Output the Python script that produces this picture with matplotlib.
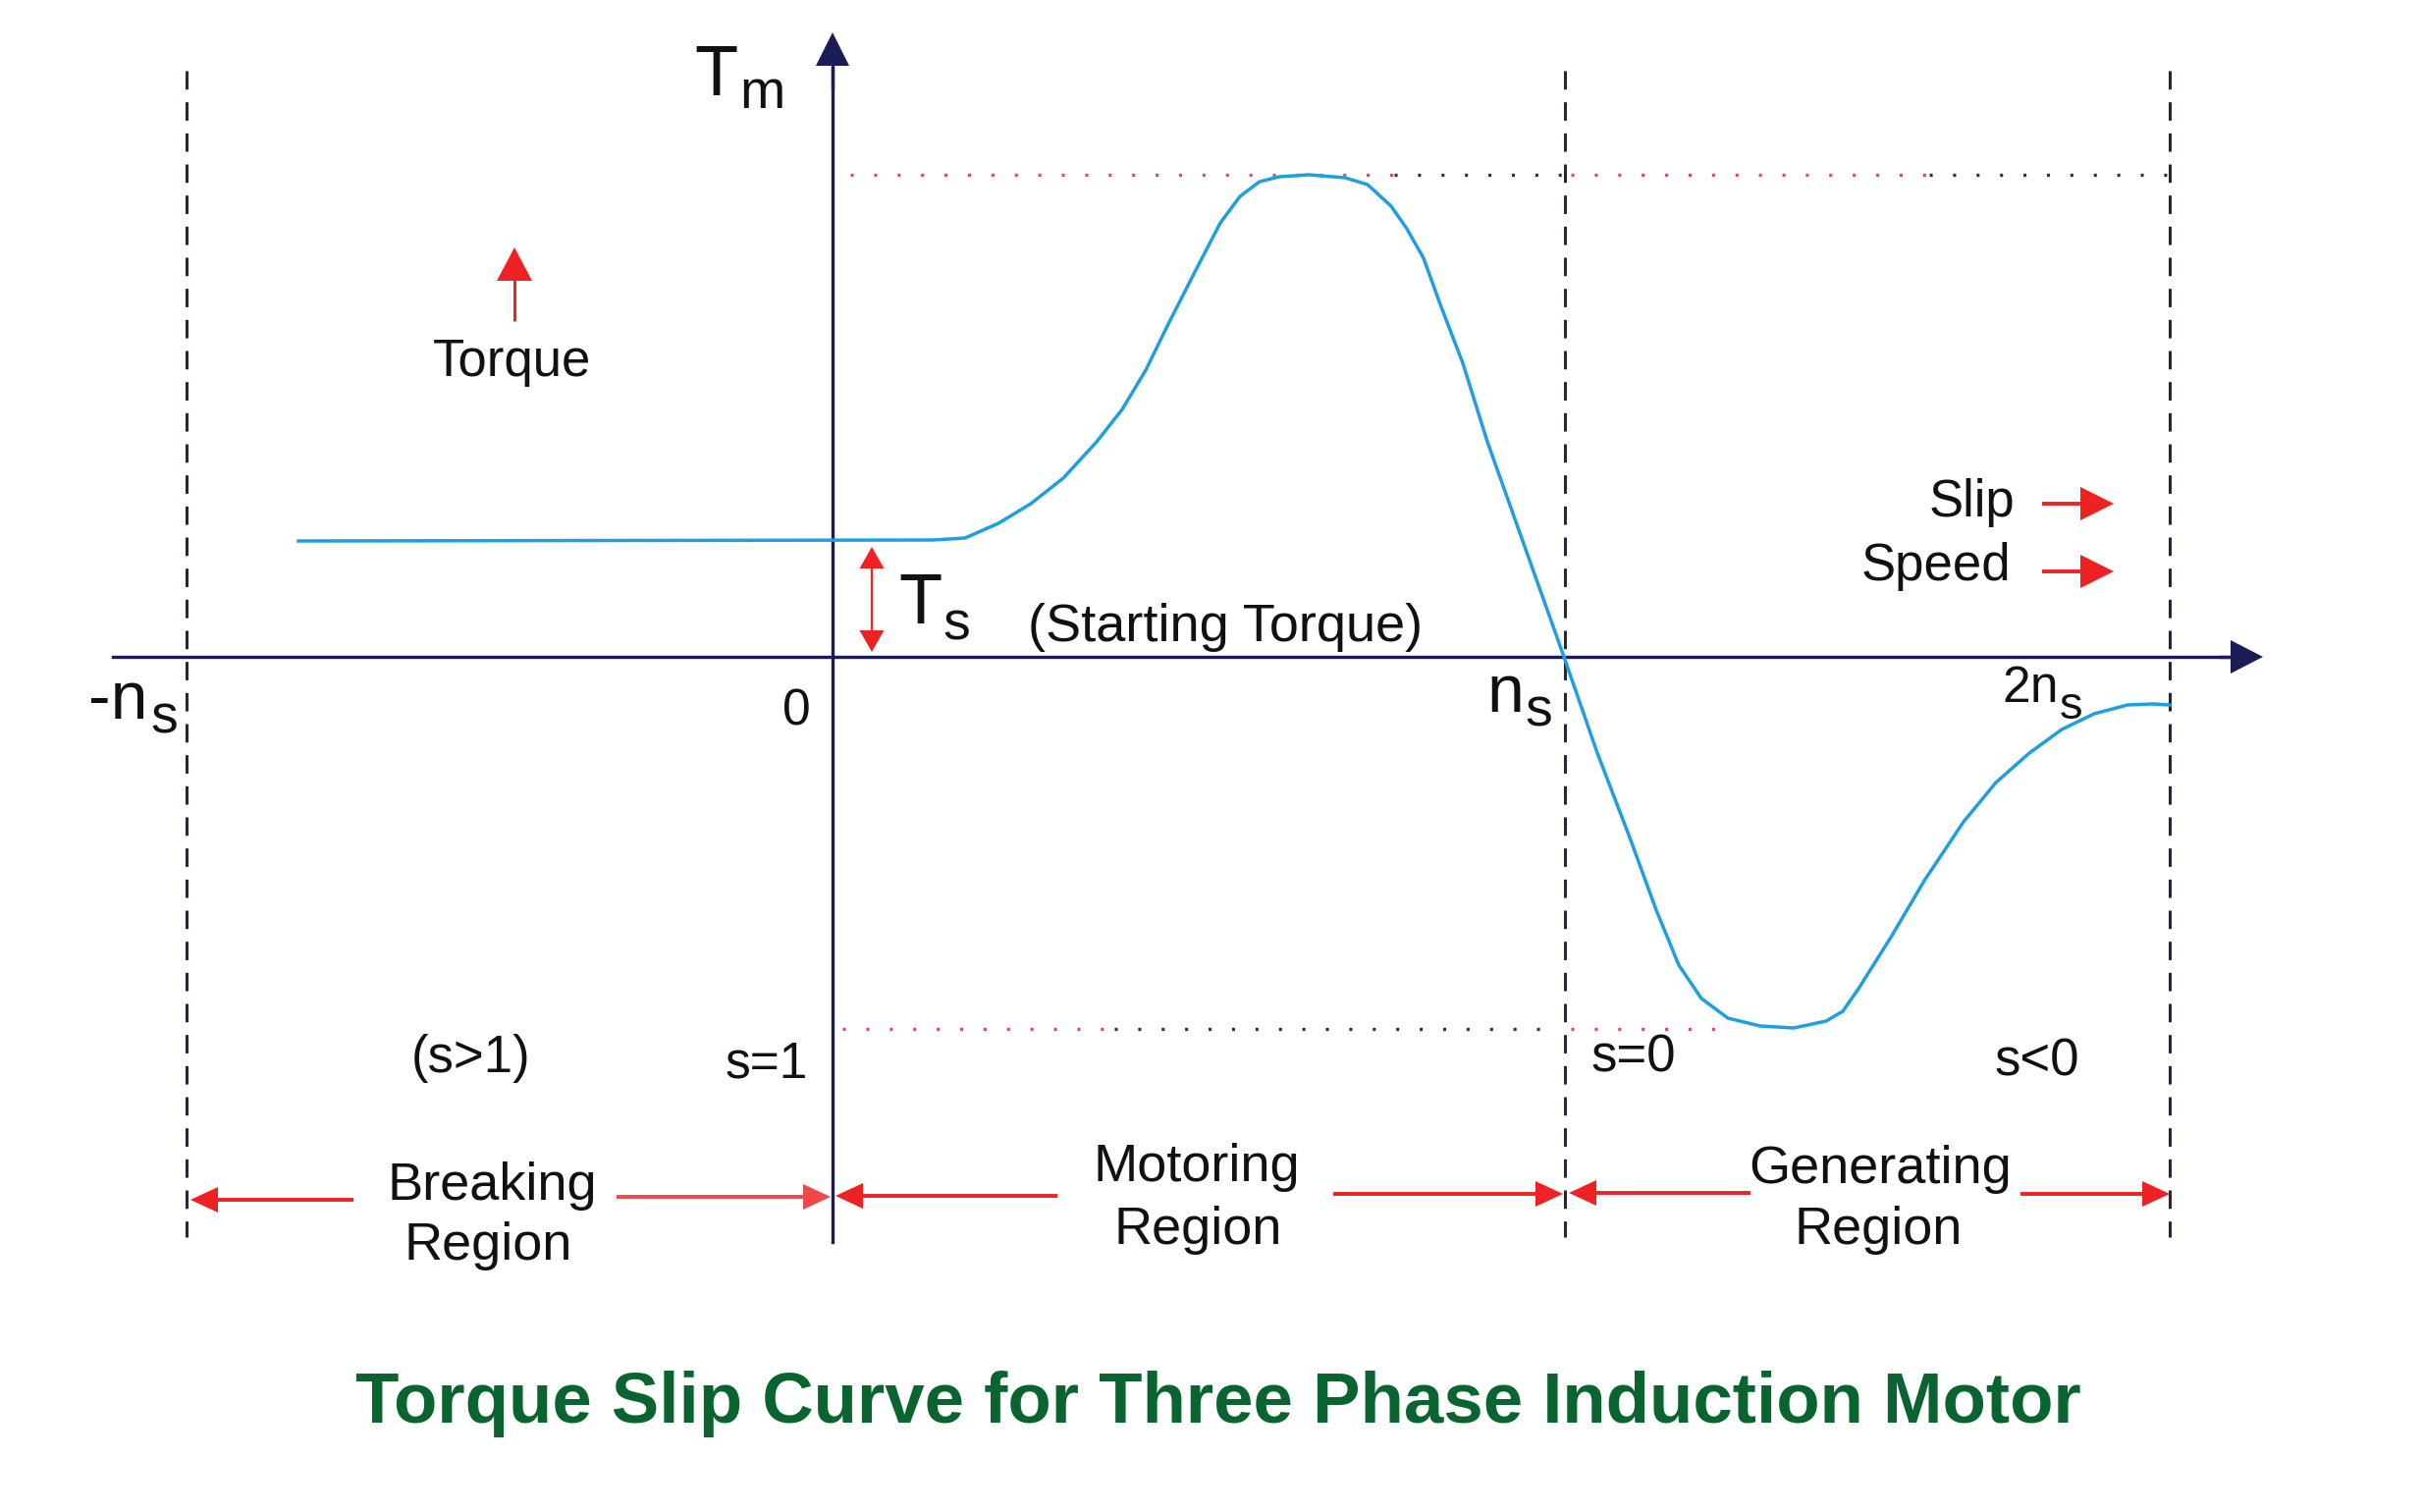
import matplotlib
matplotlib.use("Agg")
import matplotlib.pyplot as plt
import numpy as np

plt.rcParams['font.family'] = ['Liberation Sans', 'DejaVu Sans']
plt.rcParams['lines.scale_dashes'] = False

# ---------------- data (speed / torque in diagram units, origin at (0, 0)) -------------
speed = [-544, 102, 135, 169, 202, 235, 269, 295, 319, 342, 369, 395, 415, 435, 455,
         485, 522, 545, 569, 585, 602, 619, 642, 667, 745, 779, 812, 839, 862, 885,
         912, 945, 979, 1012, 1029, 1045, 1079, 1112, 1152, 1185, 1219, 1252, 1285,
         1319, 1345, 1362]
torque = [118, 119, 121, 136, 156, 182, 219, 252, 292, 339, 392, 442, 469, 484, 489,
          491, 488, 481, 459, 436, 406, 359, 299, 219, 0, -98, -184, -258, -314, -348,
          -368, -376, -378, -371, -361, -338, -284, -228, -168, -128, -98, -74, -58,
          -49, -48, -49]
speed_marks = [-658, 0, 746, 1362]          # -ns, 0, ns, 2ns
T_max = 491
T_gen_min = -379
slip_labels = ['(s>1)', 's=1', 's=0', 's<0']
region_labels = [('Breaking', 'Region'), ('Motoring', 'Region'), ('Generating', 'Region')]
title = 'Torque Slip Curve for Three Phase Induction Motor'

# ---------------- figure ---------------------------------------------------------------
W, H = 2468, 1540
OX, OY = 848, 669           # origin position in image pixels
fig = plt.figure(figsize=(W / 100, H / 100), dpi=100)
ax = fig.add_axes([0, 0, 1, 1])
ax.set_xlim(-OX, W - OX)
ax.set_ylim(OY - H, OY)
ax.axis('off')


def P(x, y):
    """image pixel -> data"""
    return x - OX, OY - y


NAVY = '#1b1b55'
RED = '#ee2222'
BLUE = '#1e9fe0'
DASH = '#25253d'
PINK = '#d9487e'
DARKDOT = '#333333'


def arrow(x0, y0, x1, y1, color, lw, hl, hw):
    """arrow from image px (x0,y0) to tip (x1,y1)"""
    a0 = np.array(P(x0, y0), float)
    a1 = np.array(P(x1, y1), float)
    d = a1 - a0
    L = np.hypot(*d)
    u = d / L
    n = np.array([-u[1], u[0]])
    base = a1 - u * hl
    ax.plot([a0[0], base[0] + u[0] * 2], [a0[1], base[1] + u[1] * 2], color=color, lw=lw,
            solid_capstyle='butt', zorder=4)
    tri = np.array([a1, base + n * hw, base - n * hw])
    ax.fill(tri[:, 0], tri[:, 1], color=color, lw=0, zorder=5)


def text(x, y, s, size, ha='left', color='#111111', weight='normal'):
    X, Y = P(x, y)
    ax.text(X, Y, s, fontsize=size, ha=ha, va='baseline', color=color, fontweight=weight,
            zorder=6)


# dashed vertical region lines
for sm in speed_marks[:1] + speed_marks[2:]:
    ax.plot([sm, sm], [OY - 72, OY - 1260], color=DASH, lw=2.2, dashes=(13.5, 9.3), zorder=2)


# dotted torque level lines
def dotted(x0, x1, T, color):
    ax.plot([x0 - OX, x1 - OX], [T, T], color=color, lw=2.4, dashes=(2.2, 15.0), zorder=1)


dotted(866, 1420, T_max, PINK)
dotted(1420, 1592, T_max, DARKDOT)
dotted(1600, 1965, T_max, PINK)
dotted(1965, 2210, T_max, DARKDOT)
dotted(858, 1135, T_gen_min, PINK)
dotted(1135, 1585, T_gen_min, DARKDOT)
dotted(1600, 1767, T_gen_min, PINK)

# axes
ax.plot([115 - OX, 2280 - OX], [0, 0], color=NAVY, lw=2.4, zorder=3)
arrow(2260, 669, 2305, 669, NAVY, 2.4, 33, 17)
ax.plot([0, 0], [OY - 1265, OY - 70], color=NAVY, lw=2.4, zorder=3)
arrow(848, 90, 848, 33, NAVY, 2.4, 34, 17)

# torque-speed curve
ax.plot(speed, torque, color=BLUE, lw=2.5, zorder=4, solid_joinstyle='round')

# axis labels
text(707, 97, 'T', 52)
text(753, 110, 'm', 40)
text(915, 635, 'T', 52)
text(960, 652, 's', 40)
text(150, 732, '-n', 49, ha='right')
text(153, 747, 's', 40)
text(811, 739, '0', 37, ha='center')
text(1552, 725, 'n', 49, ha='right')
text(1553, 740, 's', 40)
text(2068, 715, '2', 37, ha='right')
text(2068, 715, 'n', 37)
text(2098, 732, 's', 34)

# starting torque arrow + text
arrow(888, 610, 888, 557, RED, 1.6, 22, 12.5)
arrow(888, 610, 888, 664, RED, 1.6, 22, 12.5)
text(1047, 653, '(Starting Torque)', 39)

# Torque indicator
arrow(524, 327, 524, 252, RED, 2.2, 34, 18)
text(522, 383, 'Torque', 38, ha='center')

# Slip / Speed
text(2052, 526, 'Slip', 38, ha='right')
arrow(2080, 513, 2153, 513, RED, 2.8, 34, 17)
text(2048, 591, 'Speed', 38, ha='right')
arrow(2080, 582, 2153, 582, RED, 2.8, 34, 17)

# slip region labels
text(480, 1092, slip_labels[0], 38, ha='center')
text(781, 1097, slip_labels[1], 37, ha='center')
text(1664, 1091, slip_labels[2], 38, ha='center')
text(2075, 1096, slip_labels[3], 38, ha='center')

# region arrows
arrow(360, 1222, 194, 1222, RED, 2.8, 28, 13)
arrow(628, 1219, 846, 1219, '#f04848', 2.8, 28, 13)
arrow(1077, 1218, 851, 1218, RED, 2.8, 28, 13)
arrow(1358, 1216, 1592, 1216, RED, 2.8, 28, 13)
arrow(1783, 1215, 1598, 1215, RED, 2.8, 28, 13)
arrow(2058, 1216, 2210, 1216, RED, 2.8, 28, 13)

# region labels
text(501, 1222, region_labels[0][0], 39, ha='center')
text(497, 1283, region_labels[0][1], 39, ha='center')
text(1219, 1203, region_labels[1][0], 39, ha='center')
text(1220, 1267, region_labels[1][1], 39, ha='center')
text(1915, 1205, region_labels[2][0], 39, ha='center')
text(1913, 1267, region_labels[2][1], 39, ha='center')

# title
text(1241, 1449, title, 52.3, ha='center', color='#0a6430', weight='bold')

fig.savefig('out.png', dpi=100, facecolor='white')
